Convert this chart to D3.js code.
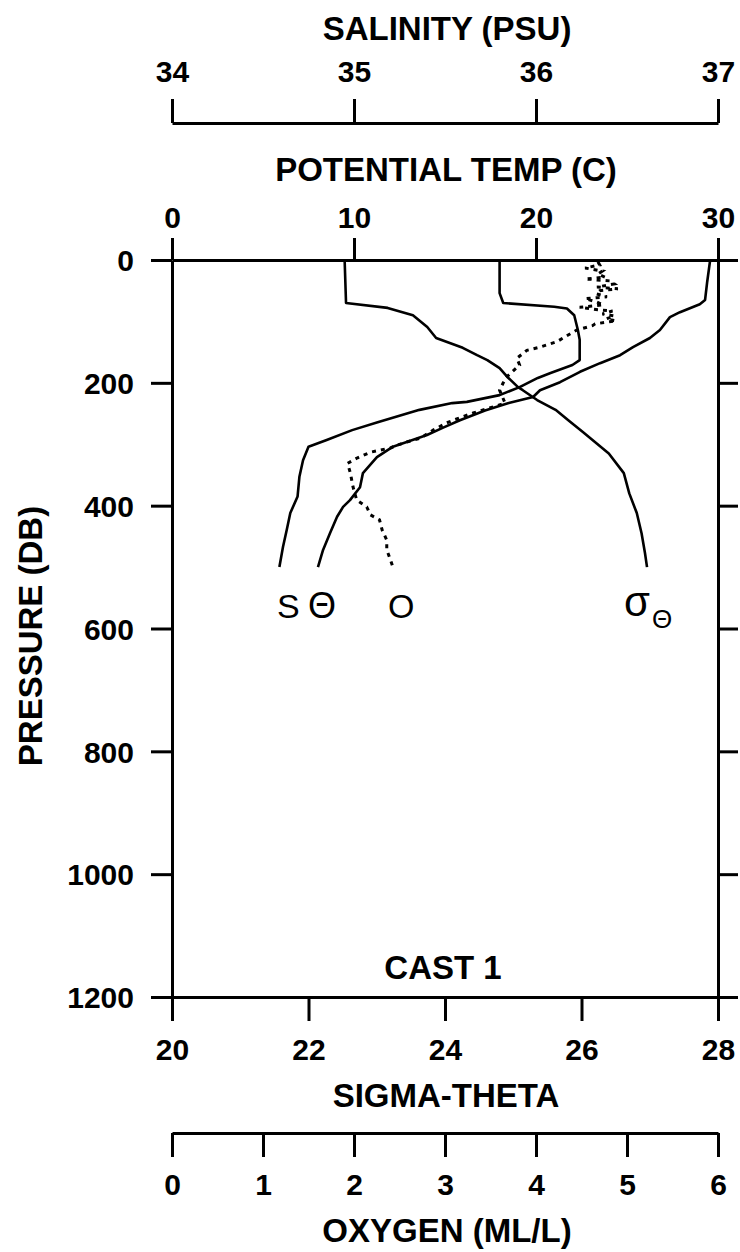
<!DOCTYPE html>
<html>
<head>
<meta charset="utf-8">
<script src="https://cdn.jsdelivr.net/npm/d3@7"></script>
<style>
  html, body { margin: 0; padding: 0; background: #fff; }
  svg text { font-family: "Liberation Sans", Arial, sans-serif; fill: #000; }
</style>
</head>
<body>
<svg id="chart" width="740" height="1252"></svg>
<script>
// ---------------- data ----------------
const pressureTicks = [0, 200, 400, 600, 800, 1000, 1200];
const salinityTicks = [34, 35, 36, 37];
const tempTicks = [0, 10, 20, 30];
const sigmaTicks = [20, 22, 24, 26, 28];
const oxygenTicks = [0, 1, 2, 3, 4, 5, 6];

const salPressure = [2, 54, 70, 76, 79, 90, 114, 130, 163, 171, 184, 192, 207, 220, 231, 233, 244, 264, 277, 293, 304, 326, 353, 385, 412, 440, 467, 500];
const salValues   = [35.80, 35.80, 35.82, 36.10, 36.17, 36.21, 36.23, 36.24, 36.24, 36.20, 36.08, 36.01, 35.91, 35.80, 35.62, 35.54, 35.36, 35.13, 34.99, 34.85, 34.75, 34.72, 34.70, 34.69, 34.65, 34.63, 34.61, 34.59];

const tempPressure = [2, 37, 65, 72, 85, 93, 114, 127, 142, 155, 168, 182, 199, 212, 223, 233, 245, 261, 273, 285, 304, 321, 347, 370, 391, 402, 418, 445, 472, 500];
const tempValues   = [29.56, 29.40, 29.29, 29.0, 27.91, 27.36, 26.81, 26.26, 25.33, 24.62, 23.52, 22.42, 21.32, 20.22, 19.84, 18.5, 17.2, 15.82, 14.9, 14.01, 12.14, 11.26, 10.49, 10.33, 9.78, 9.40, 9.07, 8.68, 8.30, 8.02];

const sigmaPressure = [2, 70, 78, 90, 109, 127, 143, 155, 163, 176, 190, 207, 212, 228, 244, 262, 280, 315, 347, 380, 412, 445, 477, 500];
const sigmaValues   = [22.53, 22.55, 23.16, 23.53, 23.74, 23.87, 24.26, 24.47, 24.62, 24.80, 24.91, 25.07, 25.14, 25.35, 25.62, 25.82, 26.02, 26.40, 26.62, 26.70, 26.81, 26.88, 26.93, 26.96];

const oxyPressure = [3, 8, 13, 18, 23, 28, 31, 34, 39, 44, 47, 50, 55, 60, 63, 68, 73, 77, 81, 83, 88, 91, 96, 99, 104, 107, 114, 125, 133, 142, 147, 160, 171, 190, 200, 212, 233, 241, 249, 257, 265, 277, 290, 298, 306, 313, 322, 331, 347, 370, 391, 402, 415, 423, 440, 456, 472, 488, 501];
const oxyValues   = [4.68, 4.70, 4.54, 4.73, 4.68, 4.76, 4.54, 4.81, 4.86, 4.67, 4.90, 4.70, 4.66, 4.78, 4.54, 4.66, 4.74, 4.48, 4.68, 4.84, 4.73, 4.86, 4.77, 4.88, 4.65, 4.62, 4.45, 4.32, 4.23, 4.04, 3.90, 3.79, 3.82, 3.68, 3.64, 3.60, 3.66, 3.49, 3.31, 3.16, 3.02, 2.87, 2.73, 2.54, 2.40, 2.18, 2.04, 1.93, 1.96, 1.99, 2.03, 2.14, 2.18, 2.28, 2.31, 2.36, 2.36, 2.40, 2.43];

// ---------------- layout ----------------
const L = 172, R = 718, T = 260, B = 997;
const svg = d3.select("#chart");

const y = d3.scaleLinear().domain([0, 1200]).range([T, B]);
const xS = d3.scaleLinear().domain([34, 37]).range([L, R]);
const xT = d3.scaleLinear().domain([0, 30]).range([L, R]);
const xSig = d3.scaleLinear().domain([20, 28]).range([L, R]);
const xO = d3.scaleLinear().domain([0, 6]).range([L, R]);

function styleAxis(g, fs) {
  g.selectAll("path.domain").attr("stroke", "#000").attr("stroke-width", 3);
  g.selectAll(".tick line").attr("stroke", "#000").attr("stroke-width", 3);
  g.selectAll(".tick text").attr("font-size", fs).attr("font-weight", "bold")
    .attr("font-family", '"Liberation Sans", Arial, sans-serif').attr("fill", "#000");
  g.attr("font-family", null).attr("font-size", null);
}

// salinity axis (top-most)
const gS = svg.append("g").attr("transform", `translate(0,123)`)
  .call(d3.axisTop(xS).tickValues(salinityTicks).tickSize(24).tickSizeOuter(0).tickPadding(17).tickFormat(d3.format("d")));
styleAxis(gS, 30);

// potential temperature axis (top of plot)
const gT = svg.append("g").attr("transform", `translate(0,${T})`)
  .call(d3.axisTop(xT).tickValues(tempTicks).tickSize(22).tickSizeOuter(0).tickPadding(10).tickFormat(d3.format("d")));
styleAxis(gT, 30);

// pressure axis (left)
const gP = svg.append("g").attr("transform", `translate(${L},0)`)
  .call(d3.axisLeft(y).tickValues(pressureTicks).tickSize(21).tickSizeOuter(0).tickPadding(17).tickFormat(d3.format("d")));
styleAxis(gP, 30);
gP.selectAll(".tick text").attr("dy", "0.36em");

// right axis (no labels)
const gR = svg.append("g").attr("transform", `translate(${R},0)`)
  .call(d3.axisRight(y).tickValues(pressureTicks).tickSize(20).tickSizeOuter(0).tickFormat(""));
styleAxis(gR, 30);

// sigma-theta axis (bottom of plot)
const gSig = svg.append("g").attr("transform", `translate(0,${B})`)
  .call(d3.axisBottom(xSig).tickValues(sigmaTicks).tickSize(24).tickSizeOuter(0).tickPadding(18).tickFormat(d3.format("d")));
styleAxis(gSig, 30);

// oxygen axis
const gO = svg.append("g").attr("transform", `translate(0,1133)`)
  .call(d3.axisBottom(xO).tickValues(oxygenTicks).tickSize(24).tickSizeOuter(0).tickPadding(17).tickFormat(d3.format("d")));
styleAxis(gO, 30);

// axis titles
function title(txt, x, yy, rot) {
  const t = svg.append("text").text(txt)
    .attr("font-size", 33).attr("font-weight", "bold").attr("text-anchor", "middle");
  if (rot) t.attr("transform", `translate(${x},${yy}) rotate(-90)`);
  else t.attr("x", x).attr("y", yy);
  return t;
}
title("SALINITY (PSU)", 447, 40);
title("POTENTIAL TEMP (C)", 446, 181);
title("SIGMA-THETA", 446, 1107);
title("OXYGEN (ML/L)", 447, 1242);
title("PRESSURE (DB)", 42, 636, true);
title("CAST 1", 443, 979);

// ---------------- profiles ----------------
function profile(pArr, vArr, xs) {
  return pArr.map((p, i) => [xs(vArr[i]), y(p)]);
}
const line = d3.line();

svg.append("path").attr("d", line(profile(salPressure, salValues, xS)))
  .attr("fill", "none").attr("stroke", "#000").attr("stroke-width", 2.6).attr("stroke-linejoin", "round");
svg.append("path").attr("d", line(profile(tempPressure, tempValues, xT)))
  .attr("fill", "none").attr("stroke", "#000").attr("stroke-width", 2.6).attr("stroke-linejoin", "round");
svg.append("path").attr("d", line(profile(sigmaPressure, sigmaValues, xSig)))
  .attr("fill", "none").attr("stroke", "#000").attr("stroke-width", 2.6).attr("stroke-linejoin", "round");
svg.append("path").attr("d", line(profile(oxyPressure, oxyValues, xO)))
  .attr("fill", "none").attr("stroke", "#000").attr("stroke-width", 3).attr("stroke-dasharray", "4,5");

// curve labels
const labY = 618;
function clabel(txt, x, yy, fs) {
  return svg.append("text").text(txt).attr("x", x).attr("y", yy)
    .attr("font-size", fs).attr("text-anchor", "middle");
}
clabel("S", xS(salValues[salValues.length - 1]) + 9, labY, 34);
clabel("Θ", xT(tempValues[tempValues.length - 1]) + 4, labY, 36);
clabel("O", xO(oxyValues[oxyValues.length - 1]) + 8, labY, 34);
clabel("σ", xSig(sigmaValues[sigmaValues.length - 1]) - 10, labY - 2, 42);
clabel("Θ", xSig(sigmaValues[sigmaValues.length - 1]) + 15, labY + 10, 26);
</script>
</body>
</html>
